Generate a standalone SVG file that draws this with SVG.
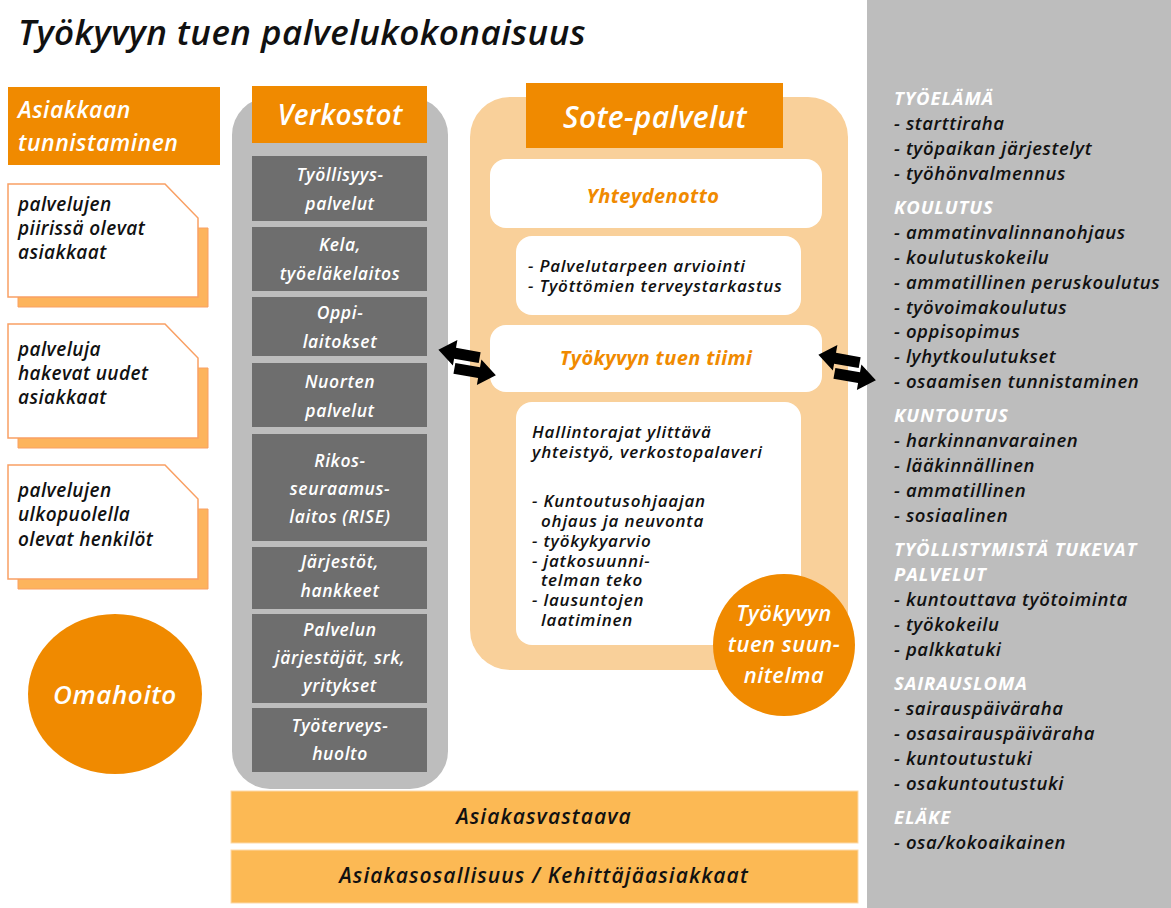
<svg xmlns="http://www.w3.org/2000/svg" width="1171" height="908" viewBox="0 0 1171 908">
<style>
text{font-family:"Open Sans","Liberation Sans",sans-serif;font-style:italic;font-weight:600}
.title{font-size:35px;fill:#111;letter-spacing:0.45px}
.hdr{fill:#F08A00}
.wh{fill:#fff}
.card-t{font-size:19px;fill:#111;letter-spacing:0.4px}
.vk{font-size:17.5px;fill:#fff;text-anchor:middle;letter-spacing:0.6px}
.dk{fill:#6E6E6E}
.wbox{fill:#fff}
.ot{font-size:20px;fill:#F08A00;text-anchor:middle;font-weight:700;letter-spacing:0.4px}
.bt{font-size:17px;fill:#111;letter-spacing:0.8px}
.rh{font-size:18.5px;fill:#fff;font-weight:700;letter-spacing:0.9px}
.ri{font-size:18.5px;fill:#111;letter-spacing:0.6px}
.bar{fill:#FCB954;stroke:#FDD9A8;stroke-width:1}
.bart{font-size:21px;fill:#111;text-anchor:middle;letter-spacing:1.1px}
.card{fill:#fff;stroke:#F9A064;stroke-width:1.5}
.shadow{fill:#FDB45C;stroke:#F9A064;stroke-width:1}
</style>
<defs>
<g id="dblarrow">
<polygon points="0,15 17,2 17,10 42,10 42,21 17,21 17,28" fill="#000"/>
<polygon points="61,30 44,17 44,25 19,25 19,36 44,36 44,43" fill="#000"/>
</g>
</defs>
<rect width="1171" height="908" fill="#fff"/>
<g id="title"><text class="title" x="18" y="45">Työkyvyn tuen palvelukokonaisuus</text></g>

<g id="right-panel">
<rect x="867" y="0" width="304" height="908" fill="#BDBDBD"/>
<text class="rh" x="894" y="105">TYÖELÄMÄ</text>
<text class="ri" x="894" y="130">- starttiraha</text>
<text class="ri" x="894" y="155">- työpaikan järjestelyt</text>
<text class="ri" x="894" y="180">- työhönvalmennus</text>
<text class="rh" x="894" y="214">KOULUTUS</text>
<text class="ri" x="894" y="239">- ammatinvalinnanohjaus</text>
<text class="ri" x="894" y="264">- koulutuskokeilu</text>
<text class="ri" x="894" y="289">- ammatillinen peruskoulutus</text>
<text class="ri" x="894" y="314">- työvoimakoulutus</text>
<text class="ri" x="894" y="338">- oppisopimus</text>
<text class="ri" x="894" y="363">- lyhytkoulutukset</text>
<text class="ri" x="894" y="388">- osaamisen tunnistaminen</text>
<text class="rh" x="894" y="422">KUNTOUTUS</text>
<text class="ri" x="894" y="447">- harkinnanvarainen</text>
<text class="ri" x="894" y="472">- lääkinnällinen</text>
<text class="ri" x="894" y="497">- ammatillinen</text>
<text class="ri" x="894" y="522">- sosiaalinen</text>
<text class="rh" x="894" y="556">TYÖLLISTYMISTÄ TUKEVAT</text>
<text class="rh" x="894" y="581">PALVELUT</text>
<text class="ri" x="894" y="606">- kuntouttava työtoiminta</text>
<text class="ri" x="894" y="631">- työkokeilu</text>
<text class="ri" x="894" y="656">- palkkatuki</text>
<text class="rh" x="894" y="690">SAIRAUSLOMA</text>
<text class="ri" x="894" y="715">- sairauspäiväraha</text>
<text class="ri" x="894" y="740">- osasairauspäiväraha</text>
<text class="ri" x="894" y="765">- kuntoutustuki</text>
<text class="ri" x="894" y="790">- osakuntoutustuki</text>
<text class="rh" x="894" y="824">ELÄKE</text>
<text class="ri" x="894" y="849">- osa/kokoaikainen</text>
</g>

<g id="asiakkaan-tunnistaminen">
<rect class="hdr" x="8" y="87" width="212" height="78"/>
<text class="wh" x="18" y="118" font-size="23" letter-spacing="0.5">Asiakkaan</text>
<text class="wh" x="18" y="151" font-size="23" letter-spacing="0.5">tunnistaminen</text>
</g>

<g id="card1">
<polygon class="shadow" points="18,228 208,228 208,307 18,307"/>
<polygon class="card" points="8,184 165,184 198,218 198,297 8,297"/>
<text class="card-t" x="18" y="211">palvelujen</text>
<text class="card-t" x="18" y="235">piirissä olevat</text>
<text class="card-t" x="18" y="259">asiakkaat</text>
</g>
<g id="card2">
<polygon class="shadow" points="18,368 208,368 208,448 18,448"/>
<polygon class="card" points="8,324 165,324 198,358 198,438 8,438"/>
<text class="card-t" x="18" y="356">palveluja</text>
<text class="card-t" x="18" y="380">hakevat uudet</text>
<text class="card-t" x="18" y="404">asiakkaat</text>
</g>
<g id="card3">
<polygon class="shadow" points="18,509 208,509 208,589 18,589"/>
<polygon class="card" points="8,465 165,465 198,499 198,579 8,579"/>
<text class="card-t" x="18" y="497">palvelujen</text>
<text class="card-t" x="18" y="521">ulkopuolella</text>
<text class="card-t" x="18" y="546">olevat henkilöt</text>
</g>

<g id="omahoito">
<ellipse cx="115" cy="694" rx="87" ry="80" fill="#F08A00"/>
<text class="wh" x="115" y="704" font-size="26" letter-spacing="0.6" text-anchor="middle">Omahoito</text>
</g>

<g id="verkostot">
<rect x="232" y="97" width="216" height="692" rx="38" fill="#BDBDBD"/>
<rect class="hdr" x="252" y="86" width="175" height="57"/>
<text class="wh" x="340" y="125" font-size="28" letter-spacing="0.3" text-anchor="middle">Verkostot</text>
</g>
<g id="vk1"><rect class="dk" x="252" y="156" width="175" height="65"/>
<text class="vk" x="340" y="181">Työllisyys-</text><text class="vk" x="340" y="210">palvelut</text></g>
<g id="vk2"><rect class="dk" x="252" y="227" width="175" height="64"/>
<text class="vk" x="340" y="251">Kela,</text><text class="vk" x="340" y="280">työeläkelaitos</text></g>
<g id="vk3"><rect class="dk" x="252" y="297" width="175" height="59"/>
<text class="vk" x="340" y="319">Oppi-</text><text class="vk" x="340" y="348">laitokset</text></g>
<g id="vk4"><rect class="dk" x="252" y="363" width="175" height="64"/>
<text class="vk" x="340" y="388">Nuorten</text><text class="vk" x="340" y="417">palvelut</text></g>
<g id="vk5"><rect class="dk" x="252" y="434" width="175" height="107"/>
<text class="vk" x="340" y="467">Rikos-</text><text class="vk" x="340" y="495">seuraamus-</text><text class="vk" x="340" y="523">laitos (RISE)</text></g>
<g id="vk6"><rect class="dk" x="252" y="547" width="175" height="62"/>
<text class="vk" x="340" y="568">Järjestöt,</text><text class="vk" x="340" y="597">hankkeet</text></g>
<g id="vk7"><rect class="dk" x="252" y="614" width="175" height="89"/>
<text class="vk" x="340" y="636">Palvelun</text><text class="vk" x="340" y="664">järjestäjät, srk,</text><text class="vk" x="340" y="692">yritykset</text></g>
<g id="vk8"><rect class="dk" x="252" y="708" width="175" height="64"/>
<text class="vk" x="340" y="732">Työterveys-</text><text class="vk" x="340" y="760">huolto</text></g>

<g id="sote">
<rect x="470" y="97" width="378" height="573" rx="40" fill="#F9D09A"/>
<rect class="hdr" x="526" y="83" width="257" height="65"/>
<text class="wh" x="655" y="128" font-size="30" letter-spacing="0.3" text-anchor="middle">Sote-palvelut</text>
</g>
<g id="yhteydenotto"><rect class="wbox" x="490" y="159" width="332" height="69" rx="16"/>
<text class="ot" x="653" y="203">Yhteydenotto</text></g>
<g id="arviointi"><rect class="wbox" x="516" y="236" width="285" height="79" rx="16"/>
<text class="bt" x="528" y="272">- Palvelutarpeen arviointi</text>
<text class="bt" x="528" y="292">- Työttömien terveystarkastus</text></g>
<g id="tiimi"><rect class="wbox" x="490" y="325" width="332" height="67" rx="16"/>
<text class="ot" x="656" y="365">Työkyvyn tuen tiimi</text></g>
<g id="hallinto"><rect class="wbox" x="516" y="402" width="285" height="243" rx="16"/>
<text class="bt" x="532" y="438">Hallintorajat ylittävä</text>
<text class="bt" x="532" y="458">yhteistyö, verkostopalaveri</text>
<text class="bt" x="532" y="507">- Kuntoutusohjaajan</text>
<text class="bt" x="541" y="527">ohjaus ja neuvonta</text>
<text class="bt" x="532" y="547">- työkykyarvio</text>
<text class="bt" x="532" y="567">- jatkosuunni-</text>
<text class="bt" x="541" y="586">telman teko</text>
<text class="bt" x="532" y="606">- lausuntojen</text>
<text class="bt" x="541" y="626">laatiminen</text></g>
<g id="suunnitelma"><circle cx="784" cy="645" r="71" fill="#F08A00"/>
<text class="wh" x="784" y="621" font-size="22" letter-spacing="0.5" text-anchor="middle">Työkyvyn</text>
<text class="wh" x="784" y="652" font-size="22" letter-spacing="0.5" text-anchor="middle">tuen suun-</text>
<text class="wh" x="784" y="683" font-size="22" letter-spacing="0.5" text-anchor="middle">nitelma</text></g>

<g id="asiakasvastaava"><rect class="bar" x="231" y="791" width="627" height="52"/>
<text class="bart" x="544" y="824">Asiakasvastaava</text></g>
<g id="asiakasosallisuus"><rect class="bar" x="231" y="850" width="627" height="53"/>
<text class="bart" x="544" y="883">Asiakasosallisuus / Kehittäjäasiakkaat</text></g>

<g id="connectors">
<use href="#dblarrow" transform="translate(441,335) rotate(10)"/>
<use href="#dblarrow" transform="translate(821,340) rotate(10)"/>
</g>
</svg>
